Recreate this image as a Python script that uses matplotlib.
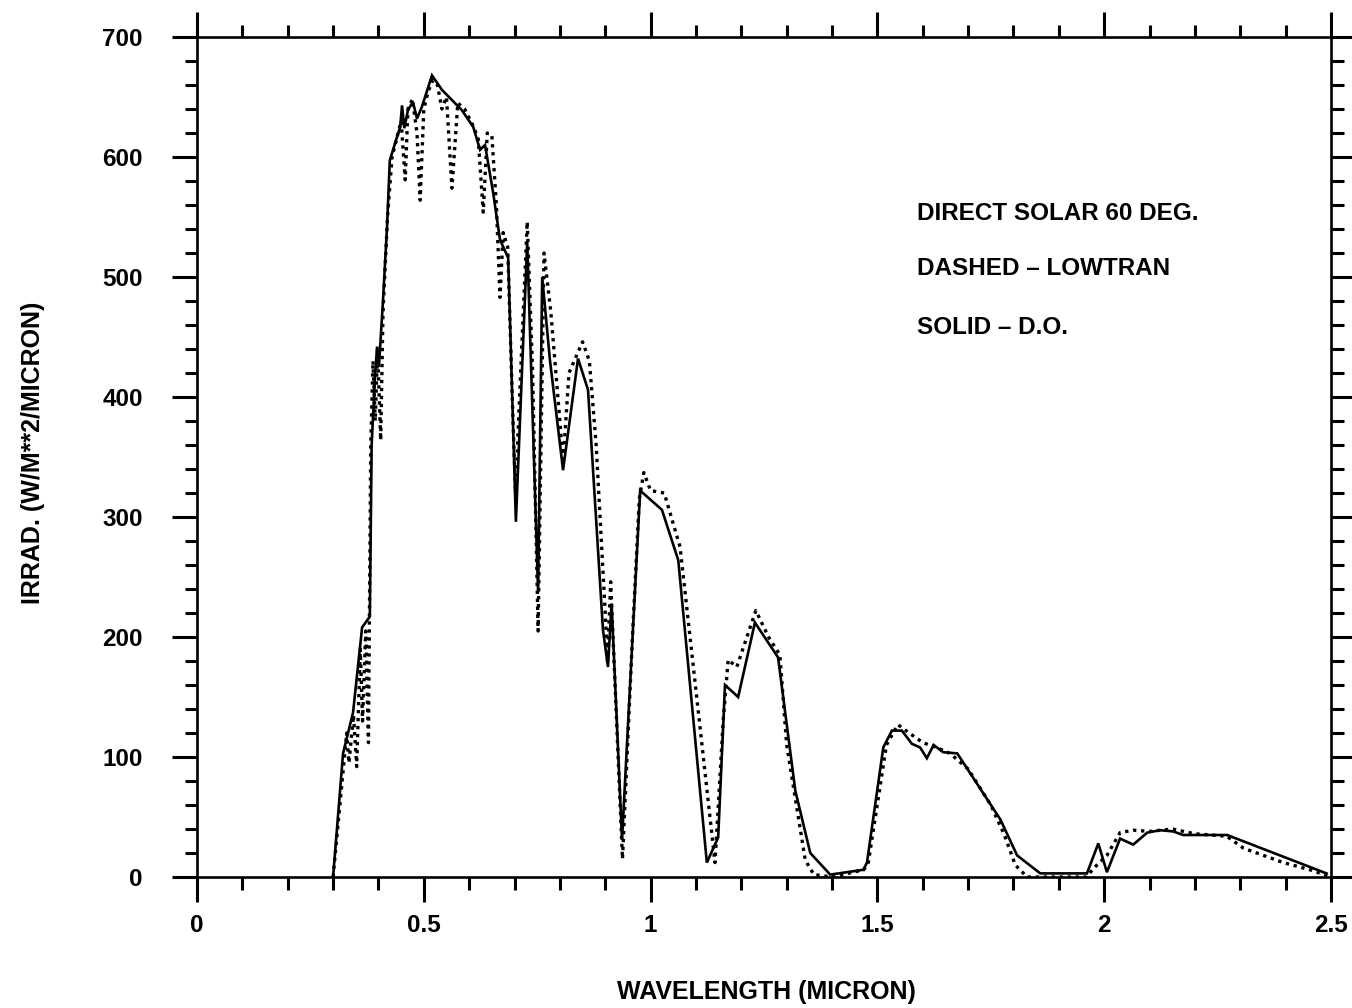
import numpy as np
import matplotlib
matplotlib.use('Agg')
import matplotlib.pyplot as plt

# D.O. (solid) spectrum
do_wl = [0.300, 0.322, 0.344, 0.364, 0.381, 0.385, 0.392, 0.397, 0.401, 0.410,
         0.419, 0.425, 0.437, 0.448, 0.452, 0.457, 0.465, 0.476, 0.485, 0.496,
         0.518, 0.540, 0.558, 0.584, 0.609, 0.624, 0.635, 0.653, 0.668, 0.686,
         0.703, 0.728, 0.752, 0.761, 0.778, 0.807, 0.840, 0.862, 0.870, 0.895,
         0.906, 0.914, 0.937, 0.977, 1.025, 1.061, 1.124, 1.149, 1.164, 1.193,
         1.230, 1.281, 1.319, 1.352, 1.396, 1.469, 1.477, 1.513, 1.532, 1.554,
         1.576, 1.594, 1.609, 1.624, 1.645, 1.676, 1.771, 1.808, 1.859, 1.962,
         1.987, 2.006, 2.035, 2.064, 2.095, 2.123, 2.152, 2.174, 2.271, 2.490]
do_irr = [0, 103, 137, 208, 217, 360, 414, 442, 425, 480,
          542, 597, 612, 625, 643, 624, 639, 646, 632, 642,
          668, 656, 649, 639, 625, 606, 610, 570, 531, 516,
          296, 529, 237, 500, 431, 339, 432, 406, 358, 206,
          175, 228, 31, 322, 306, 264, 12, 33, 160, 150,
          212, 183, 72, 20, 2, 6, 12, 108, 122, 122,
          111, 108, 99, 110, 104, 103, 48, 18, 3, 3,
          28, 4, 32, 27, 37, 39, 38, 35, 35, 3]

# LOWTRAN (dashed) spectrum
lt_wl = [0.300, 0.320, 0.330, 0.335, 0.345, 0.352, 0.360, 0.365, 0.372, 0.378,
         0.383, 0.388, 0.393, 0.398, 0.405, 0.410, 0.420, 0.430, 0.440, 0.450,
         0.459, 0.465, 0.475, 0.485, 0.492, 0.500, 0.510, 0.520, 0.530, 0.540,
         0.550, 0.562, 0.575, 0.590, 0.610, 0.620, 0.631, 0.640, 0.650, 0.660,
         0.668, 0.675, 0.685, 0.695, 0.702, 0.728, 0.740, 0.752, 0.765, 0.780,
         0.800, 0.807, 0.820, 0.850, 0.865, 0.880, 0.900, 0.905, 0.912, 0.938,
         0.960, 0.975, 0.985, 1.000, 1.030, 1.065, 1.142, 1.160, 1.171, 1.190,
         1.232, 1.260, 1.285, 1.300, 1.341, 1.360, 1.400, 1.470, 1.480, 1.520,
         1.545, 1.570, 1.600, 1.630, 1.660, 1.700, 1.750, 1.780, 1.804, 1.830,
         1.960, 1.984, 2.006, 2.035, 2.064, 2.100, 2.150, 2.200, 2.270, 2.307,
         2.395, 2.454, 2.500]
lt_irr = [0, 80, 120, 95, 135, 92, 190, 130, 205, 112,
          360, 430, 380, 440, 364, 470, 550, 600, 615, 630,
          581, 640, 648, 620, 564, 640, 655, 664, 660, 640,
          650, 574, 645, 640, 625, 615, 554, 620, 618, 560,
          483, 537, 525, 400, 320, 546, 420, 205, 520, 471,
          380, 345, 420, 446, 430, 360, 220, 180, 246, 15,
          200, 315, 337, 322, 320, 275, 12, 130, 181, 175,
          222, 200, 185, 110, 14, 2, 0, 6, 12, 110,
          127, 120, 112, 108, 103, 90, 60, 35, 10, 0,
          0, 10, 18, 37, 39, 38, 40, 36, 34, 24,
          12, 6, 0]

x_major = [0, 0.5, 1, 1.5, 2, 2.5]
x_labels = ['0', '0.5', '1', '1.5', '2', '2.5']
y_major = [0, 100, 200, 300, 400, 500, 600, 700]

notes = ['DIRECT SOLAR 60 DEG.', 'DASHED \u2013 LOWTRAN', 'SOLID \u2013 D.O.']

plt.rcParams['font.family'] = ['Liberation Sans', 'DejaVu Sans']
plt.rcParams['font.weight'] = 'bold'

fig = plt.figure(figsize=(13.52, 10.08), dpi=100)
ax = fig.add_axes([197 / 1352, 131 / 1008, 1134 / 1352, 840 / 1008])

ax.plot(do_wl, do_irr, color='black', lw=1.9, solid_joinstyle='miter')
ax.plot(lt_wl, lt_irr, color='black', lw=2.4, linestyle=(0, (1, 1.4)))

ax.set_xlim(0, 2.5)
ax.set_ylim(0, 700)
ax.set_xticks(x_major)
ax.set_xticklabels(x_labels)
ax.set_xticks(np.arange(0, 2.51, 0.1), minor=True)
ax.set_yticks(y_major)
ax.set_yticks(np.arange(0, 701, 20), minor=True)

ax.tick_params(which='both', direction='out', width=2.2, color='black',
               top=True, right=True, labelsize=17.5)
ax.tick_params(which='major', length=18)
ax.tick_params(which='minor', length=9)
ax.tick_params(axis='x', pad=9)
ax.tick_params(axis='y', pad=21)
for lab in ax.get_xticklabels() + ax.get_yticklabels():
    lab.set_fontweight('bold')
for sp in ax.spines.values():
    sp.set_linewidth(1.9)

ax.set_xlabel('WAVELENGTH (MICRON)', fontsize=18, fontweight='bold')
ax.set_ylabel('IRRAD. (W/M**2/MICRON)', fontsize=18, fontweight='bold')
ax.xaxis.set_label_coords(0.502, -0.137)
ax.xaxis.label.set_va('center')
ax.yaxis.set_label_coords(-0.1446, 0.505)
ax.yaxis.label.set_va('center')

for txt, yy in zip(notes, [553, 507, 458]):
    ax.text(1.588, yy, txt, fontsize=17.5, fontweight='bold', va='center', ha='left')

fig.savefig('out.png', dpi=100)
